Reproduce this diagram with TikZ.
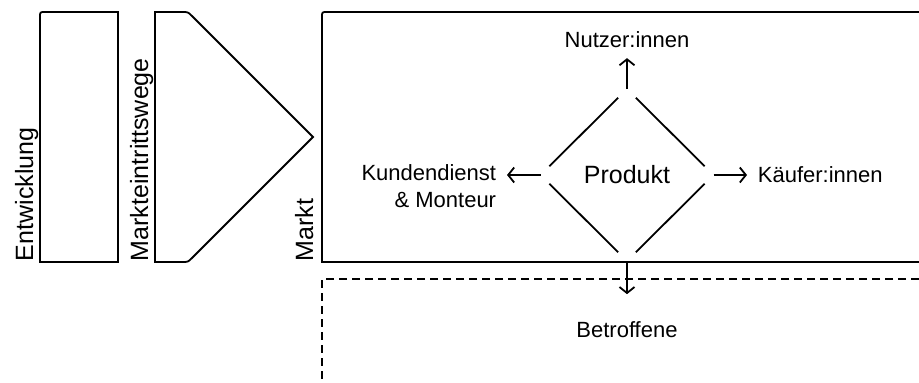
\documentclass[tikz,border=0pt]{standalone}
\usepackage{fontspec}
\setmainfont{Liberation Sans}
\usetikzlibrary{shapes.geometric,arrows.meta}

\newcommand{\gross}{\fontsize{25}{30}\selectfont}
\newcommand{\klein}{\fontsize{22}{27}\selectfont}

\begin{document}
\begin{tikzpicture}[x=1pt,y=-1pt,line width=1.8pt,
    pfeil/.style={-{Straight Barb[length=6pt,width=15pt]}},
    seite/.style={shorten <=12.5pt,shorten >=12.5pt},
    titel/.style={rotate=90,anchor=base west,inner sep=0pt,font=\gross},
    ziel/.style={inner sep=10pt,font=\klein}]
            \useasboundingbox (0,0) rectangle (919,383);

            \draw (118,262) -- (40,262) -- (40,17) .. controls (40,12) .. (45,12) -- (118,12) -- cycle;
            \draw (155,262) -- (155,12) -- (182,12) .. controls (188,12) .. (192,16) -- (313,137)
                -- (192,258) .. controls (188,262) .. (182,262) -- cycle;
            \draw (919,262) -- (322,262) -- (322,17) .. controls (322,12) .. (327,12) -- (919,12);
            \draw[dash pattern=on 8pt off 5pt] (919,279) -- (322,279) -- (322,383);

            \node (entw) at (33,262) [titel] {Entwicklung};
            \node (wege) at (148,262) [titel] {Markteintrittswege};
            \node (markt) at (313,262) [titel] {Markt};

            \node (produkt) at (627,175) [diamond,minimum width=173pt,minimum height=172pt,inner sep=0pt,outer sep=0pt,font=\gross] {Produkt};
            \foreach \a/\b in {west/north,north/east,east/south,south/west}
                \draw[seite] (produkt.\a) -- (produkt.\b);

            \node (nutzer) at (627,47) [ziel,anchor=base] {Nutzer:innen};
            \node (kaeufer) at (747,182) [ziel,anchor=base west] {Käufer:innen};
            \node (kunden) at (507,154) [ziel,anchor=north east,align=right] {Kundendienst\\\& Monteur};
            \node (betroffene) at (627,337) [ziel,anchor=base] {Betroffene};

            \draw[pfeil] (produkt.north) -- (nutzer.south);
            \draw[pfeil] (produkt.east) -- (produkt.east -| kaeufer.west);
            \draw[pfeil] (produkt.west) -- (produkt.west -| kunden.east);
            \draw[pfeil,shorten >=16pt] (produkt.south) -- (betroffene.north);

        \end{tikzpicture}
\end{document}
